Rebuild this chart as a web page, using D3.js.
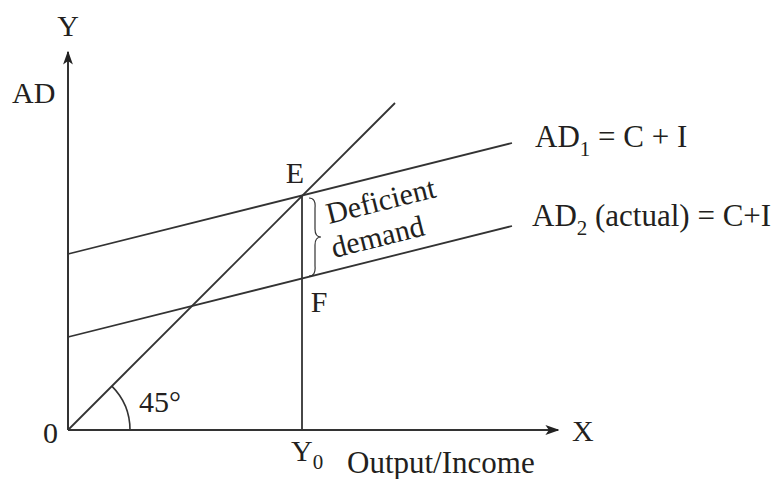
<!DOCTYPE html>
<html>
<head>
<meta charset="utf-8">
<script src="https://cdn.jsdelivr.net/npm/d3@7"></script>
<style>
  html, body { margin: 0; padding: 0; background: #fff; }
  #chart { width: 776px; height: 479px; }
  text { font-family: "Liberation Serif", "DejaVu Serif", serif; fill: #231f20; }
</style>
</head>
<body>
<div id="chart"></div>
<script>
// -----------------------------
// Data (units of the diagram)
// -----------------------------
const line45 = [[0, 0], [32.7, 32.7]];
const ad1 = [[0, 17.6], [44.4, 28.7]];
const ad2 = [[0, 9.3], [44.4, 20.4]];
const equilibrium = { x: 23.4, y: 23.4 };   // point E
const actualAtY0 = { x: 23.4, y: 15.2 };     // point F
const axisMax = { x: 49, y: 37.8 };

const width = 776, height = 479;
const ink = "#333";

const svg = d3.select("#chart").append("svg")
  .attr("width", width)
  .attr("height", height);

// -----------------------------
// Scales
// -----------------------------
const x = d3.scaleLinear().domain([0, axisMax.x]).range([68, 558]);
const y = d3.scaleLinear().domain([0, axisMax.y]).range([430, 52]);

const defs = svg.append("defs");
defs.append("marker")
  .attr("id", "arrow")
  .attr("viewBox", "0 0 10 10")
  .attr("refX", 9).attr("refY", 5)
  .attr("markerWidth", 14).attr("markerHeight", 14)
  .attr("markerUnits", "userSpaceOnUse")
  .attr("orient", "auto")
  .append("path")
  .attr("d", "M0,1.5 L10,5 L0,8.5 L2.5,5 Z")
  .attr("fill", "#222");

// -----------------------------
// Axes
// -----------------------------
svg.append("line")
  .attr("x1", x(0)).attr("y1", y(0))
  .attr("x2", x(axisMax.x)).attr("y2", y(0))
  .attr("stroke", ink).attr("stroke-width", 2)
  .attr("marker-end", "url(#arrow)");

svg.append("line")
  .attr("x1", x(0)).attr("y1", y(0))
  .attr("x2", x(0)).attr("y2", y(axisMax.y))
  .attr("stroke", ink).attr("stroke-width", 2)
  .attr("marker-end", "url(#arrow)");

// -----------------------------
// Lines
// -----------------------------
const line = d3.line().x(d => x(d[0])).y(d => y(d[1]));

[line45, ad1, ad2].forEach(pts => {
  svg.append("path")
    .attr("d", line(pts))
    .attr("fill", "none")
    .attr("stroke", ink)
    .attr("stroke-width", 1.8);
});

// vertical at Y0
svg.append("line")
  .attr("x1", x(equilibrium.x)).attr("y1", y(equilibrium.y))
  .attr("x2", x(equilibrium.x)).attr("y2", y(0))
  .attr("stroke", ink).attr("stroke-width", 1.8);

// 45 degree arc
const arcR = x(6.2) - x(0);
svg.append("path")
  .attr("d", d3.arc()({ innerRadius: arcR, outerRadius: arcR, startAngle: Math.PI / 4, endAngle: Math.PI / 2 }))
  .attr("transform", `translate(${x(0)},${y(0)})`)
  .attr("fill", "none")
  .attr("stroke", ink)
  .attr("stroke-width", 1.6);

// brace between E and F
const bx = x(equilibrium.x) + 11;
const by1 = y(equilibrium.y) + 2;
const by2 = y(actualAtY0.y) - 2;
const bm = (by1 + by2) / 2;
svg.append("path")
  .attr("d", `M${bx - 4},${by1} Q${bx + 3},${by1} ${bx + 2},${by1 + 10}
    L${bx + 2},${bm - 8} Q${bx + 2},${bm} ${bx + 8},${bm}
    Q${bx + 2},${bm} ${bx + 2},${bm + 8}
    L${bx + 2},${by2 - 10} Q${bx + 3},${by2} ${bx - 4},${by2}`)
  .attr("fill", "none")
  .attr("stroke", "#333")
  .attr("stroke-width", 1.2);

// -----------------------------
// Labels
// -----------------------------
const fs = 30, big = 31, sub = 21;
const label = (tx, ty, str, anchor = "start", size = fs) =>
  svg.append("text")
    .attr("x", tx).attr("y", ty)
    .attr("text-anchor", anchor)
    .style("font-size", size + "px")
    .text(str);

label(x(0), 36, "Y", "middle");
label(12, 103, "AD");
label(x(0) - 10, 443, "0", "end");
label(572, 441, "X");
label(x(equilibrium.x) - 7, 183, "E", "middle");
label(x(equilibrium.x) + 17, 312, "F", "middle");
label(139, 412, "45°");

// Y0 with subscript
const y0t = svg.append("text")
  .attr("x", x(equilibrium.x) - 11).attr("y", 461)
  .style("font-size", fs + "px");
y0t.append("tspan").text("Y");
y0t.append("tspan").attr("dy", 8).style("font-size", sub + "px").text("0");

label(347, 473, "Output/Income", "start", big);

// AD1 = C + I
const t1 = svg.append("text")
  .attr("x", 535).attr("y", 147)
  .style("font-size", big + "px");
t1.append("tspan").text("AD");
t1.append("tspan").attr("dy", 9).style("font-size", sub + "px").text("1");
t1.append("tspan").attr("dy", -9).text(" = C + I");

// AD2 (actual) = C+I
const t2 = svg.append("text")
  .attr("x", 532).attr("y", 226)
  .style("font-size", big + "px");
t2.append("tspan").text("AD");
t2.append("tspan").attr("dy", 9).style("font-size", sub + "px").text("2");
t2.append("tspan").attr("dy", -9).text(" (actual) = C+I");

// Deficient demand (rotated along the AD lines)
const angle = -Math.atan((y(ad1[0][1]) - y(ad1[1][1])) / (x(ad1[1][0]) - x(ad1[0][0]))) * 180 / Math.PI;
svg.append("text")
  .attr("transform", `translate(329,224) rotate(${angle})`)
  .style("font-size", fs + "px")
  .text("Deficient");
svg.append("text")
  .attr("transform", `translate(334,258) rotate(${angle})`)
  .style("font-size", fs + "px")
  .text("demand");
</script>
</body>
</html>
